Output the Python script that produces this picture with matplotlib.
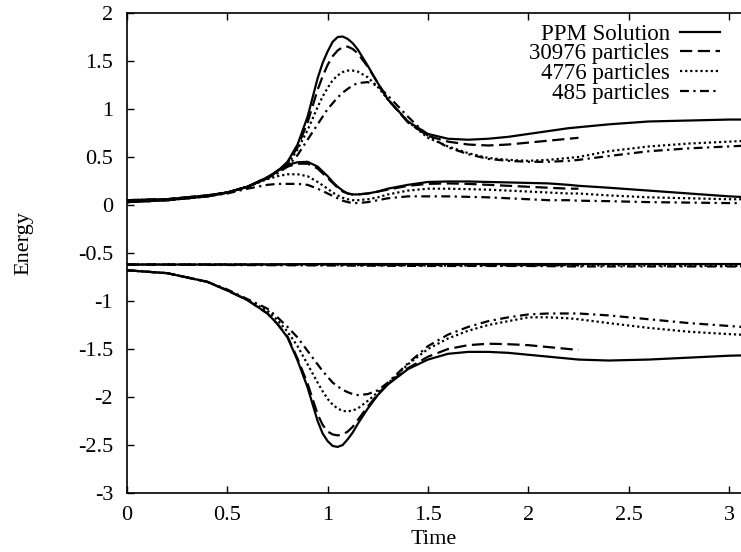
"""Energy vs time: PPM solution against three particle runs."""

import matplotlib.pyplot as plt

plt.rcParams["font.family"] = ["Liberation Serif", "DejaVu Serif"]

# shared time grid (the 30976 run stops at t = 2.25, first 32 points)
TIME = [0.0, 0.2, 0.4, 0.5, 0.6, 0.7, 0.75, 0.8, 0.85, 0.9, 0.95, 0.975, 1.0, 1.025, 1.05,
        1.075, 1.1, 1.125, 1.15, 1.2, 1.25, 1.3, 1.4, 1.5, 1.6, 1.7, 1.8, 1.9, 2.0, 2.1,
        2.2, 2.25, 2.4, 2.6, 2.8, 3.0, 3.1]
TOTAL_TIME = [0.0, 0.5, 1.0, 1.5, 2.0, 2.25, 2.5, 3.0, 3.1]

LABELS = ["PPM Solution", "30976 particles", "4776 particles", "485 particles"]

# upper curves
KIN_PPM = [0.05, 0.06, 0.10, 0.13, 0.19, 0.29, 0.35, 0.45, 0.63, 0.92, 1.32, 1.48, 1.60,
           1.70, 1.75, 1.755, 1.73, 1.685, 1.62, 1.45, 1.27, 1.10, 0.87, 0.74, 0.69, 0.68,
           0.69, 0.71, 0.74, 0.77, 0.80, 0.81, 0.84, 0.87, 0.88, 0.89, 0.89]
KIN_30976 = [0.05, 0.06, 0.10, 0.13, 0.19, 0.29, 0.35, 0.44, 0.60, 0.86, 1.20, 1.34, 1.46,
             1.55, 1.61, 1.645, 1.65, 1.625, 1.58, 1.44, 1.27, 1.10, 0.86, 0.72, 0.66,
             0.63, 0.62, 0.63, 0.65, 0.67, 0.69, 0.70]
KIN_4776 = [0.05, 0.06, 0.10, 0.13, 0.19, 0.28, 0.34, 0.42, 0.58, 0.78, 1.02, 1.13, 1.22,
            1.30, 1.35, 1.385, 1.40, 1.40, 1.39, 1.33, 1.23, 1.10, 0.87, 0.70, 0.61, 0.54,
            0.49, 0.47, 0.46, 0.47, 0.49, 0.50, 0.56, 0.61, 0.64, 0.66, 0.67]
KIN_485 = [0.05, 0.06, 0.10, 0.13, 0.19, 0.28, 0.33, 0.40, 0.52, 0.68, 0.84, 0.92, 1.00,
           1.06, 1.12, 1.17, 1.21, 1.245, 1.27, 1.28, 1.24, 1.14, 0.92, 0.72, 0.60, 0.53,
           0.48, 0.46, 0.45, 0.45, 0.46, 0.47, 0.51, 0.56, 0.59, 0.61, 0.62]

# middle curves
TH_PPM = [0.03, 0.05, 0.09, 0.13, 0.19, 0.28, 0.36, 0.42, 0.445, 0.45, 0.40, 0.35, 0.30,
          0.24, 0.19, 0.15, 0.12, 0.11, 0.11, 0.12, 0.14, 0.17, 0.21, 0.24, 0.245, 0.245,
          0.24, 0.235, 0.23, 0.225, 0.21, 0.20, 0.18, 0.15, 0.12, 0.09, 0.08]
TH_30976 = [0.03, 0.05, 0.09, 0.13, 0.19, 0.28, 0.35, 0.40, 0.43, 0.43, 0.38, 0.33, 0.28,
            0.23, 0.18, 0.14, 0.12, 0.11, 0.11, 0.12, 0.14, 0.16, 0.20, 0.22, 0.225, 0.22,
            0.21, 0.20, 0.19, 0.18, 0.17, 0.17]
TH_4776 = [0.03, 0.05, 0.09, 0.13, 0.19, 0.27, 0.30, 0.32, 0.32, 0.30, 0.24, 0.205, 0.17,
           0.13, 0.10, 0.075, 0.06, 0.05, 0.05, 0.06, 0.08, 0.11, 0.15, 0.17, 0.17, 0.165,
           0.16, 0.15, 0.14, 0.13, 0.12, 0.12, 0.10, 0.08, 0.07, 0.06, 0.06]
TH_485 = [0.03, 0.05, 0.09, 0.12, 0.17, 0.21, 0.22, 0.22, 0.22, 0.21, 0.17, 0.145, 0.12,
          0.095, 0.07, 0.045, 0.03, 0.02, 0.02, 0.03, 0.05, 0.07, 0.09, 0.09, 0.09, 0.085,
          0.08, 0.07, 0.06, 0.05, 0.05, 0.045, 0.04, 0.03, 0.025, 0.02, 0.02]

# nearly flat total
TOT_PPM = [-0.62, -0.62, -0.615, -0.615, -0.615, -0.615, -0.615, -0.615, -0.615]
TOT_30976 = [-0.62, -0.62, -0.62, -0.625, -0.625, -0.625]
TOT_4776 = [-0.62, -0.62, -0.625, -0.63, -0.63, -0.63, -0.63, -0.635, -0.635]
TOT_485 = [-0.62, -0.625, -0.63, -0.635, -0.635, -0.64, -0.64, -0.64, -0.64]

# lower curves
POT_PPM = [-0.68, -0.71, -0.80, -0.89, -0.99, -1.13, -1.24, -1.38, -1.62, -1.90, -2.25,
           -2.38, -2.46, -2.51, -2.52, -2.50, -2.44, -2.37, -2.28, -2.12, -1.98, -1.87,
           -1.71, -1.61, -1.55, -1.53, -1.53, -1.54, -1.56, -1.58, -1.60, -1.61, -1.62,
           -1.61, -1.59, -1.57, -1.565]
POT_30976 = [-0.68, -0.71, -0.80, -0.89, -0.99, -1.13, -1.24, -1.37, -1.60, -1.86, -2.18,
             -2.29, -2.36, -2.39, -2.40, -2.39, -2.36, -2.31, -2.24, -2.10, -1.97, -1.86,
             -1.70, -1.58, -1.50, -1.46, -1.445, -1.45, -1.46, -1.48, -1.50, -1.51]
POT_4776 = [-0.68, -0.71, -0.80, -0.89, -0.99, -1.10, -1.20, -1.32, -1.47, -1.66, -1.85,
            -1.94, -2.02, -2.08, -2.12, -2.145, -2.15, -2.14, -2.12, -2.04, -1.95, -1.86,
            -1.66, -1.50, -1.39, -1.31, -1.25, -1.21, -1.17, -1.17, -1.18, -1.19, -1.23,
            -1.28, -1.32, -1.345, -1.355]
POT_485 = [-0.68, -0.71, -0.80, -0.88, -0.98, -1.08, -1.17, -1.27, -1.38, -1.52, -1.66,
           -1.73, -1.79, -1.85, -1.89, -1.925, -1.95, -1.97, -1.98, -1.97, -1.93, -1.85,
           -1.65, -1.47, -1.35, -1.27, -1.21, -1.17, -1.14, -1.13, -1.13, -1.13, -1.15,
           -1.19, -1.23, -1.26, -1.275]

STYLES = [
    dict(linestyle="-"),
    dict(linestyle=(0, (5.5, 2.5))),
    dict(linestyle=(0, (1.0, 1.3))),
    dict(linestyle=(0, (4.0, 2.0, 1.0, 2.0))),
]

RUNS = [
    (KIN_PPM, TH_PPM, TOT_PPM, POT_PPM),
    (KIN_30976, TH_30976, TOT_30976, POT_30976),
    (KIN_4776, TH_4776, TOT_4776, POT_4776),
    (KIN_485, TH_485, TOT_485, POT_485),
]

fig = plt.figure(figsize=(7.41, 5.52), dpi=100)
ax = fig.add_axes([127 / 741, 59 / 552, 614 / 741, 480 / 552])

for label, style, (kin, th, tot, pot) in zip(LABELS, STYLES, RUNS):
    kw = dict(color="black", linewidth=1.6, **style)
    ax.plot(TIME[:len(kin)], kin, label=label, **kw)
    ax.plot(TIME[:len(th)], th, **kw)
    ax.plot(TOTAL_TIME[:len(tot)], tot, **kw)
    ax.plot(TIME[:len(pot)], pot, **kw)

ax.set_xlim(0, 3.06)
ax.set_ylim(-3, 2)
ax.set_xticks([0, 0.5, 1, 1.5, 2, 2.5, 3])
ax.set_xticklabels(["0", "0.5", "1", "1.5", "2", "2.5", "3"])
ax.set_yticks([-3, -2.5, -2, -1.5, -1, -0.5, 0, 0.5, 1, 1.5, 2])
ax.set_yticklabels(["-3", "-2.5", "-2", "-1.5", "-1", "-0.5", "0", "0.5", "1", "1.5", "2"])
ax.tick_params(direction="in", length=5, width=1.0, labelsize=16, top=True, right=False)
ax.tick_params(axis="y", pad=10)
ax.tick_params(axis="x", pad=9)
for side in ("left", "bottom", "top"):
    ax.spines[side].set_linewidth(1.2)
ax.spines["right"].set_visible(False)

ax.set_xlabel("Time", fontsize=16, labelpad=4)
ax.set_ylabel("Energy", fontsize=16)
ax.yaxis.set_label_coords(-0.152, 0.52)

ax.legend(loc="upper right", bbox_to_anchor=(0.966, 0.978), frameon=False, fontsize=16.5,
          markerfirst=False, handlelength=1.75, handletextpad=0.45, labelspacing=-0.05,
          borderaxespad=0, borderpad=0)

fig.savefig("out.png", dpi=100)
